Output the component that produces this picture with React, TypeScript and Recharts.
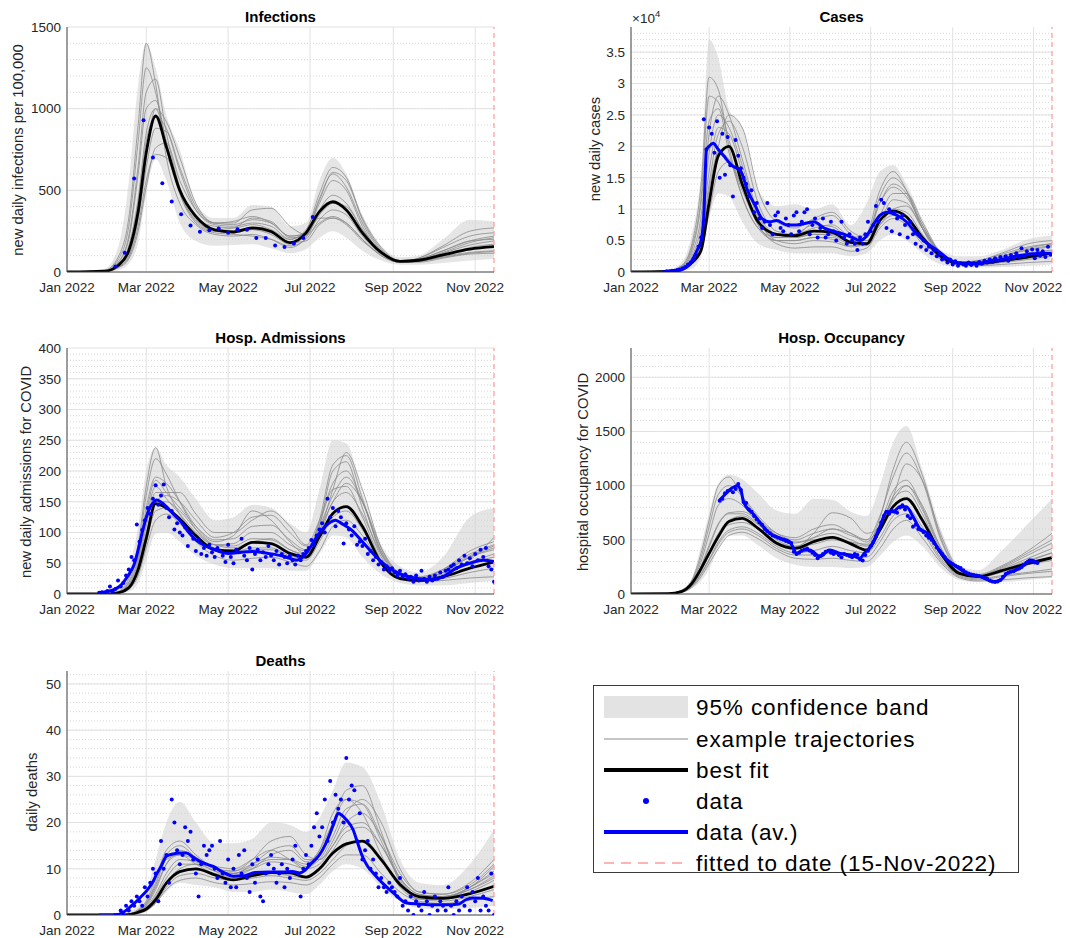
import {
  ComposedChart,
  Area,
  Line,
  Scatter,
  XAxis,
  YAxis,
  CartesianGrid,
  ReferenceLine,
} from "recharts";

const FONT = '"Liberation Sans", Arial, Helvetica, sans-serif';

// days since 1 Jan 2022
const gridDays = [0, 28, 38, 46, 53, 59, 66, 74, 84, 96, 110, 124, 138, 152, 166, 178, 188, 198, 208, 220, 234, 248, 262, 280, 300, 318];
const monthTickDays = [0, 59, 120, 181, 243, 304];
const monthTickLabels = ["Jan 2022", "Mar 2022", "May 2022", "Jul 2022", "Sep 2022", "Nov 2022"];
const fitDay = 318; // 15-Nov-2022

// ---- Infections
const infLo = [0, 0, 10, 50, 180, 480, 690, 560, 300, 190, 160, 165, 170, 145, 115, 140, 210, 250, 210, 130, 70, 45, 45, 55, 70, 80];
const infHi = [0, 20, 150, 550, 1150, 1400, 1250, 960, 750, 420, 330, 330, 410, 400, 280, 300, 560, 700, 600, 350, 160, 90, 100, 200, 320, 310];
const infBest = [0, 5, 40, 130, 370, 730, 955, 766, 500, 340, 258, 245, 270, 248, 180, 240, 370, 430, 380, 240, 120, 65, 72, 105, 140, 155];
const infTraj = [
  [0, 10, 90, 330, 900, 1400, 1150, 700, 420, 290, 230, 220, 230, 200, 150, 210, 450, 600, 520, 300, 130, 70, 80, 130, 190, 200],
  [0, 6, 60, 220, 650, 1100, 1180, 850, 520, 330, 250, 240, 260, 230, 170, 230, 420, 560, 500, 280, 120, 65, 85, 150, 220, 240],
  [0, 4, 35, 120, 350, 720, 1000, 920, 700, 420, 300, 300, 380, 390, 280, 230, 300, 340, 300, 200, 100, 60, 65, 95, 120, 130],
  [0, 3, 25, 80, 250, 520, 760, 790, 560, 380, 300, 310, 340, 300, 220, 240, 330, 330, 290, 190, 110, 70, 80, 130, 190, 220],
  [0, 5, 45, 160, 450, 850, 1000, 780, 480, 300, 240, 230, 220, 200, 160, 200, 320, 380, 350, 220, 110, 60, 60, 85, 110, 115],
  [0, 3, 28, 90, 280, 560, 720, 700, 500, 330, 280, 270, 290, 260, 200, 260, 440, 610, 560, 330, 150, 70, 70, 100, 150, 170],
  [0, 8, 75, 280, 800, 1250, 1100, 760, 480, 320, 260, 270, 330, 310, 210, 220, 380, 470, 420, 260, 120, 65, 75, 120, 180, 210],
  [0, 4, 40, 140, 420, 800, 950, 880, 620, 380, 290, 280, 300, 280, 200, 250, 480, 640, 580, 320, 140, 70, 75, 115, 165, 190],
  [0, 6, 55, 200, 600, 1000, 1050, 800, 500, 310, 250, 250, 260, 240, 180, 190, 290, 330, 300, 200, 100, 60, 65, 90, 115, 125],
  [0, 3, 30, 100, 320, 640, 880, 860, 640, 400, 300, 290, 320, 300, 220, 230, 350, 420, 400, 260, 120, 65, 85, 160, 250, 270],
];
const infDots = [33, 118, 573, 929, 701, 544, 432, 353, 285, 247, 255, 267, 240, 261, 259, 208, 208, 163, 153, 175, 208, 336];

// ---- Cases (x 10^4)
const casLo = [0, 0, 0.01, 0.05, 0.25, 0.85, 1.25, 1.2, 0.8, 0.45, 0.35, 0.3, 0.3, 0.3, 0.25, 0.3, 0.5, 0.6, 0.5, 0.3, 0.12, 0.08, 0.07, 0.08, 0.1, 0.12];
const casHi = [0, 0.03, 0.15, 0.6, 1.6, 3.7, 3.4, 2.6, 2.3, 1.3, 1.05, 1.08, 1.0, 1.08, 0.75, 1.1, 1.6, 1.7, 1.4, 0.85, 0.35, 0.25, 0.25, 0.35, 0.52, 0.58];
const casBest = [0, 0.01, 0.04, 0.15, 0.35, 1.1, 1.85, 2.0, 1.4, 0.8, 0.6, 0.58, 0.65, 0.63, 0.47, 0.45, 0.82, 0.97, 0.88, 0.55, 0.25, 0.14, 0.14, 0.18, 0.24, 0.3];
const casTraj = [
  [0, 0.02, 0.1, 0.45, 1.4, 3.1, 2.9, 2.0, 1.2, 0.7, 0.5, 0.5, 0.55, 0.55, 0.45, 0.6, 1.3, 1.6, 1.3, 0.7, 0.25, 0.15, 0.18, 0.28, 0.4, 0.45],
  [0, 0.01, 0.07, 0.3, 0.9, 2.2, 2.8, 2.5, 1.8, 0.95, 0.6, 0.55, 0.6, 0.58, 0.48, 0.55, 1.1, 1.4, 1.25, 0.7, 0.28, 0.14, 0.15, 0.22, 0.3, 0.35],
  [0, 0.01, 0.04, 0.15, 0.45, 1.2, 2.0, 2.5, 2.3, 1.3, 0.8, 0.7, 0.85, 0.95, 0.65, 0.55, 0.85, 1.0, 0.95, 0.6, 0.25, 0.15, 0.16, 0.25, 0.38, 0.45],
  [0, 0.01, 0.03, 0.12, 0.35, 0.95, 1.6, 1.75, 1.35, 0.75, 0.45, 0.38, 0.4, 0.4, 0.33, 0.38, 0.7, 0.85, 0.75, 0.45, 0.2, 0.12, 0.1, 0.12, 0.15, 0.17],
  [0, 0.02, 0.08, 0.35, 1.1, 2.4, 2.6, 1.9, 1.2, 0.7, 0.55, 0.6, 0.75, 0.72, 0.55, 0.6, 1.1, 1.35, 1.2, 0.75, 0.3, 0.16, 0.17, 0.25, 0.35, 0.4],
  [0, 0.01, 0.05, 0.2, 0.6, 1.6, 2.3, 2.2, 1.6, 0.85, 0.5, 0.45, 0.5, 0.48, 0.4, 0.45, 0.8, 1.15, 1.1, 0.7, 0.28, 0.12, 0.11, 0.15, 0.2, 0.25],
  [0, 0.015, 0.09, 0.4, 1.2, 2.8, 2.7, 2.1, 1.4, 0.8, 0.55, 0.55, 0.6, 0.6, 0.5, 0.55, 1.2, 1.5, 1.3, 0.75, 0.3, 0.16, 0.18, 0.3, 0.45, 0.5],
  [0, 0.01, 0.05, 0.2, 0.55, 1.4, 2.2, 2.4, 2.0, 1.1, 0.65, 0.6, 0.8, 0.9, 0.6, 0.5, 0.75, 1.0, 1.05, 0.7, 0.3, 0.14, 0.13, 0.18, 0.25, 0.3],
  [0, 0.01, 0.04, 0.18, 0.5, 1.3, 1.9, 1.8, 1.3, 0.75, 0.5, 0.5, 0.55, 0.52, 0.42, 0.42, 0.75, 0.9, 0.8, 0.5, 0.22, 0.12, 0.12, 0.16, 0.22, 0.26],
  [0, 0.02, 0.06, 0.25, 0.75, 1.9, 2.5, 2.3, 1.7, 0.9, 0.58, 0.6, 0.7, 0.75, 0.55, 0.5, 0.9, 1.25, 1.25, 0.8, 0.3, 0.15, 0.16, 0.24, 0.36, 0.42],
];
const casAvDays = [24, 36, 42, 46, 50, 53, 55, 57, 59, 62, 66, 70, 76, 83, 88, 94, 99, 105, 110, 118, 125, 133, 138, 146, 153, 161, 167, 173, 177, 183, 188, 193, 201, 208, 216, 224, 231, 239, 246, 254, 262, 270, 280, 290, 300, 310, 318];
const casAvVals = [0, 0.02, 0.08, 0.18, 0.35, 0.5, 0.9, 1.95, 2.0, 2.05, 1.95, 1.85, 1.7, 1.6, 1.3, 1.05, 0.85, 0.8, 0.82, 0.75, 0.75, 0.78, 0.8, 0.7, 0.65, 0.6, 0.55, 0.5, 0.55, 0.75, 0.9, 0.95, 0.9, 0.8, 0.6, 0.45, 0.35, 0.22, 0.15, 0.13, 0.13, 0.17, 0.2, 0.25, 0.28, 0.3, 0.3];
const casDots = [0, 0.01, 0.01, 0.02, 0.02, 0.03, 0.04, 0.06, 0.08, 0.12, 0.15, 0.2, 0.28, 0.4, 0.55, 2.43, 1.95, 2.3, 2.2, 1.9, 2.4, 1.5, 2.2, 1.55, 2.15, 1.7, 1.2, 2.1, 1.85, 1.65, 1.5, 1.4, 1.2, 1.3, 0.95, 1.1, 0.85, 0.7, 0.8, 1.1, 0.75, 0.6, 0.9, 0.95, 0.7, 0.65, 0.85, 0.75, 0.6, 0.9, 0.95, 0.65, 0.8, 0.95, 1.0, 0.6, 0.75, 0.85, 0.55, 0.7, 0.85, 0.55, 0.6, 0.8, 0.65, 0.5, 0.6, 0.8, 0.55, 0.45, 0.6, 0.5, 0.45, 0.35, 0.55, 0.45, 0.6, 0.8, 0.65, 0.75, 1.05, 0.8, 1.15, 1.1, 0.7, 1.0, 0.65, 0.95, 0.85, 0.6, 0.9, 0.75, 0.55, 0.8, 0.6, 0.45, 0.6, 0.4, 0.5, 0.35, 0.4, 0.3, 0.35, 0.25, 0.3, 0.2, 0.22, 0.15, 0.2, 0.12, 0.17, 0.1, 0.14, 0.12, 0.1, 0.15, 0.11, 0.14, 0.1, 0.16, 0.13, 0.18, 0.15, 0.2, 0.16, 0.22, 0.18, 0.24, 0.2, 0.25, 0.18, 0.27, 0.22, 0.3, 0.24, 0.38, 0.25, 0.33, 0.28, 0.36, 0.22, 0.35, 0.26, 0.33, 0.24, 0.4, 0.28];

// ---- Hosp. admissions
const admLo = [0, 0, 0, 4, 18, 55, 98, 100, 85, 62, 48, 42, 42, 42, 38, 38, 65, 95, 92, 60, 32, 18, 14, 14, 18, 22];
const admHi = [0, 1, 8, 40, 110, 200, 238, 210, 190, 155, 120, 125, 145, 140, 115, 100, 170, 250, 245, 165, 80, 45, 35, 60, 125, 140];
const admBest = [0, 0, 2, 10, 40, 90, 147, 140, 122, 95, 72, 70, 84, 82, 66, 60, 93, 131, 142, 110, 50, 25, 22, 28, 42, 52];
const admTraj = [
  [0, 0, 4, 25, 80, 175, 238, 175, 130, 95, 75, 68, 75, 75, 62, 58, 110, 200, 215, 140, 60, 30, 25, 40, 70, 85],
  [0, 0, 3, 18, 60, 140, 190, 180, 150, 110, 85, 95, 135, 120, 85, 65, 100, 170, 230, 170, 75, 32, 25, 35, 60, 75],
  [0, 0, 2, 12, 45, 110, 165, 165, 165, 130, 100, 100, 120, 135, 110, 80, 120, 180, 200, 150, 70, 35, 28, 40, 65, 80],
  [0, 0, 1, 8, 30, 75, 120, 130, 115, 85, 62, 55, 58, 60, 52, 45, 70, 110, 120, 95, 50, 26, 20, 22, 26, 28],
  [0, 0, 2, 14, 50, 120, 175, 155, 130, 100, 80, 82, 100, 100, 80, 70, 115, 170, 175, 125, 55, 28, 22, 30, 50, 60],
  [0, 0, 1, 10, 38, 95, 150, 150, 135, 105, 80, 75, 85, 90, 72, 62, 95, 150, 165, 130, 65, 33, 24, 35, 55, 92],
  [0, 0, 3, 20, 70, 160, 220, 195, 150, 105, 80, 78, 90, 88, 72, 65, 120, 210, 225, 155, 65, 30, 24, 35, 60, 72],
  [0, 0, 2, 11, 40, 100, 150, 160, 150, 120, 92, 100, 125, 128, 100, 78, 105, 150, 180, 150, 75, 34, 26, 38, 62, 78],
  [0, 0, 1, 9, 35, 85, 135, 140, 120, 90, 70, 65, 72, 72, 60, 55, 85, 125, 135, 105, 52, 27, 21, 25, 35, 42],
  [0, 0, 2, 15, 55, 130, 185, 165, 140, 110, 88, 90, 110, 112, 88, 72, 110, 160, 190, 150, 68, 30, 23, 32, 52, 65],
];
const admAvDays = [23, 30, 35, 40, 44, 47, 50, 53, 56, 60, 63, 67, 71, 74, 80, 84, 90, 96, 103, 110, 120, 130, 138, 150, 160, 166, 171, 178, 183, 188, 195, 200, 205, 212, 220, 230, 240, 250, 262, 270, 280, 290, 300, 310, 318];
const admAvVals = [2, 4, 7, 14, 25, 35, 48, 72, 100, 131, 145, 153, 148, 142, 128, 120, 102, 88, 78, 72, 66, 68, 69, 66, 62, 58, 55, 66, 82, 99, 115, 120, 114, 104, 85, 61, 42, 31, 25, 23, 28, 42, 50, 55, 53];
const admDots = [2, 3, 2, 5, 12, 4, 8, 22, 12, 18, 30, 40, 60, 55, 113, 85, 104, 120, 140, 130, 155, 177, 145, 160, 178, 140, 125, 135, 105, 115, 100, 95, 108, 78, 100, 90, 70, 88, 65, 75, 62, 80, 68, 60, 75, 70, 62, 52, 80, 60, 50, 72, 68, 90, 62, 55, 75, 40, 65, 72, 55, 68, 60, 78, 62, 55, 70, 48, 65, 60, 50, 62, 55, 48, 62, 55, 65, 70, 75, 88, 80, 95, 105, 115, 100, 155, 125, 140, 110, 135, 125, 82, 115, 105, 95, 110, 80, 85, 78, 90, 65, 70, 55, 60, 48, 52, 40, 45, 38, 42, 35, 30, 38, 28, 32, 25, 28, 20, 30, 22, 38, 25, 20, 28, 22, 30, 25, 35, 28, 38, 40, 45, 48, 42, 55, 48, 62, 50, 58, 45, 65, 55, 72, 60, 75, 45, 40, 20];

// ---- Hosp. occupancy
const occLo = [0, 0, 10, 55, 120, 230, 420, 540, 540, 450, 330, 270, 250, 250, 240, 250, 350, 480, 540, 440, 240, 130, 110, 110, 130, 150];
const occHi = [0, 5, 40, 140, 450, 750, 1020, 1100, 1060, 930, 770, 740, 880, 870, 760, 720, 1000, 1400, 1550, 1150, 600, 260, 220, 400, 650, 880];
const occBest = [0, 3, 22, 98, 237, 375, 530, 668, 698, 606, 468, 421, 483, 523, 462, 406, 590, 806, 880, 683, 375, 190, 160, 215, 283, 335];
const occTraj = [
  [0, 4, 35, 130, 380, 680, 1000, 1080, 900, 700, 540, 480, 500, 520, 480, 460, 700, 1150, 1400, 1100, 520, 220, 170, 250, 380, 500],
  [0, 3, 28, 110, 300, 550, 820, 880, 820, 650, 480, 430, 560, 750, 700, 560, 620, 900, 1200, 1050, 550, 230, 180, 260, 400, 560],
  [0, 2, 18, 75, 190, 320, 480, 590, 620, 560, 440, 380, 400, 440, 400, 380, 520, 720, 800, 620, 330, 170, 140, 170, 200, 230],
  [0, 2, 15, 60, 160, 280, 420, 540, 570, 510, 400, 330, 320, 330, 310, 300, 420, 600, 680, 520, 290, 150, 120, 130, 150, 160],
  [0, 3, 25, 100, 260, 450, 650, 750, 760, 680, 560, 520, 600, 640, 560, 480, 650, 950, 1050, 800, 420, 200, 165, 230, 330, 420],
  [0, 3, 20, 85, 220, 380, 560, 680, 720, 640, 500, 440, 460, 500, 470, 440, 620, 880, 950, 740, 380, 180, 150, 200, 270, 310],
  [0, 4, 30, 120, 340, 620, 920, 1000, 900, 720, 560, 500, 560, 600, 540, 500, 720, 1080, 1300, 1050, 500, 210, 170, 240, 360, 470],
  [0, 2, 20, 80, 210, 360, 540, 640, 660, 600, 480, 440, 520, 600, 560, 500, 620, 860, 1000, 820, 430, 200, 160, 220, 310, 380],
  [0, 2, 16, 70, 180, 310, 460, 570, 600, 540, 420, 360, 360, 380, 350, 340, 480, 680, 740, 580, 310, 160, 130, 160, 190, 210],
  [0, 3, 24, 95, 250, 430, 640, 740, 740, 650, 520, 470, 520, 560, 500, 450, 600, 900, 1000, 780, 400, 190, 155, 210, 300, 380],
];
const occAvDays = [67, 72, 76, 80, 83, 85, 93, 98, 105, 113, 120, 122, 125, 130, 135, 143, 150, 158, 166, 173, 176, 181, 188, 193, 198, 203, 208, 213, 218, 224, 231, 239, 246, 254, 264, 274, 279, 284, 294, 302, 308];
const occAvVals = [868, 930, 975, 1000, 960, 850, 730, 650, 560, 514, 483, 440, 375, 406, 406, 345, 406, 375, 360, 330, 375, 437, 620, 760, 760, 806, 806, 714, 606, 560, 437, 314, 252, 190, 160, 114, 129, 190, 237, 314, 283];
const occDots = [860, 880, 930, 950, 960, 940, 970, 1015, 960, 850, 840, 780, 760, 720, 690, 660, 640, 600, 580, 560, 540, 530, 520, 510, 500, 490, 480, 470, 390, 370, 380, 400, 410, 420, 400, 380, 360, 330, 350, 370, 390, 400, 380, 370, 380, 360, 340, 370, 360, 350, 340, 370, 360, 320, 310, 360, 400, 440, 480, 530, 590, 660, 720, 760, 740, 770, 760, 750, 800, 820, 780, 720, 700, 620, 640, 600, 590, 570, 540, 520, 500, 470, 430, 400, 370, 340, 310, 290, 275, 260, 250, 240, 220, 200, 190, 180, 175, 170, 165, 160, 150, 140, 125, 115, 110, 115, 130, 160, 185, 195, 205, 210, 225, 235, 250, 270, 290, 310, 300, 290, 285];

// ---- Deaths
const dthLo = [0, 0, 0, 0, 0.2, 0.8, 2.5, 5, 7, 6.5, 6, 5, 5, 5.5, 5, 4.5, 6.5, 9.5, 11, 10, 6, 3, 1.5, 1.2, 1.5, 2];
const dthHi = [0, 0, 0.2, 0.8, 2, 5, 12, 20, 24.5, 20, 15.5, 15.5, 16.5, 20, 19.5, 18, 21, 27, 33, 32, 24, 12, 7, 6.5, 11, 18.5];
const dthBest = [0, 0, 0, 0.1, 0.6, 1.3, 3.3, 6.9, 9.4, 10, 8.7, 7.6, 8.5, 9.2, 9.1, 8.2, 10, 13.4, 15.4, 16, 12, 6.6, 4, 3.6, 4.6, 6.2];
const dthTraj = [
  [0, 0, 0, 0.2, 1.2, 3, 8, 14, 16, 13, 10, 9, 10, 11.5, 11, 10, 13, 20, 27, 28, 18, 7, 3.5, 3.5, 6, 9],
  [0, 0, 0, 0.1, 0.8, 2, 5.5, 11, 14, 12.5, 10, 9.5, 12, 16, 17, 13, 12, 16, 22, 25, 20, 10, 5, 4.5, 7, 12],
  [0, 0, 0, 0.1, 0.5, 1.2, 3, 7, 10, 11, 10.5, 10, 12, 14, 12, 10, 11, 15, 19, 20, 15, 8, 4.5, 4, 5.5, 8],
  [0, 0, 0, 0.05, 0.3, 0.9, 2.5, 5.5, 7.5, 8, 7, 6.5, 6.8, 7.2, 7, 6.5, 8, 11, 13, 13, 9, 5, 3, 2.5, 3.2, 4],
  [0, 0, 0, 0.15, 1, 2.5, 6.5, 12, 13, 11, 9, 8.5, 10, 13, 14, 11.5, 14, 22, 25, 22, 13, 6, 3.5, 3.5, 5, 7.5],
  [0, 0, 0, 0.1, 0.7, 1.8, 4.5, 9, 12, 11.5, 9.5, 8, 8.5, 9, 8.5, 8, 10, 14, 18, 19, 15, 8, 4.5, 4, 6, 10.5],
  [0, 0, 0, 0.15, 1, 2.6, 7, 13, 15, 12.5, 10, 9, 10.5, 12, 12, 11, 14, 20, 25, 24, 16, 7.5, 4, 4, 6, 9.5],
  [0, 0, 0, 0.08, 0.6, 1.5, 4, 8, 11, 11, 9.5, 9, 11, 14, 15, 12, 12, 15, 20, 22, 17, 9, 5, 4.5, 6.5, 11],
  [0, 0, 0, 0.05, 0.4, 1, 2.8, 6, 8.5, 9, 8, 7.5, 8, 8.5, 8, 7.5, 9, 12, 15, 16, 12, 6.5, 3.5, 3, 4, 5.5],
  [0, 0, 0, 0.12, 0.9, 2.2, 6, 11, 13, 12, 10, 9.5, 11, 12.5, 12, 10.5, 12, 17, 23, 24, 17, 8, 4, 3.8, 5.5, 8.5],
];
const dthAvDays = [24, 36, 40, 44, 48, 52, 56, 60, 64, 67, 70, 74, 79, 84, 89, 94, 99, 104, 109, 116, 124, 132, 140, 150, 160, 168, 173, 177, 181, 185, 188, 192, 196, 199, 202, 205, 208, 213, 216, 220, 224, 228, 235, 243, 253, 262, 272, 282, 292, 297, 302, 310, 317];
const dthAvVals = [0, 0, 0.3, 1, 2, 3, 4.2, 5.5, 7.2, 9, 10.5, 12.7, 13.2, 13.4, 13.4, 12.5, 11.6, 11, 10.5, 9.3, 8.4, 8.5, 9.2, 9.3, 9.3, 9.4, 9.1, 9.6, 10.9, 12, 13, 15, 17.7, 20, 22, 21.5, 20.6, 18.5, 16, 12.7, 10.5, 9.1, 6.9, 4.8, 2.6, 2.4, 2.2, 2.2, 2.4, 3.3, 3.7, 3.6, 3.1];
const dthDots = [0, 0, 1, 0, 2, 1, 3, 2, 4, 3, 2, 6, 4, 7, 10, 9, 3, 16, 10, 13, 7, 25, 20, 14, 11, 13, 19, 16, 18, 12, 9, 4, 11, 15, 13, 14, 15, 10, 8, 16, 9, 7, 12, 6, 10, 6, 13, 9, 14, 8, 5, 11, 7, 12, 4, 3, 9, 11, 13, 10, 7, 9, 11, 6, 10, 8, 12, 15, 9, 4, 10, 13, 11, 15, 19, 22, 17, 19, 25, 16, 29, 20, 26, 23, 25, 20, 34, 25, 28, 27, 16, 22, 12, 14, 16, 10, 12, 9, 6, 8, 6, 5, 7, 6, 5, 4, 8, 2, 3, 1, 4, 0, 3, 2, 1, 5, 3, 0, 2, 4, 1, 3, 2, 1, 6, 2, 0, 3, 1, 4, 2, 6, 1, 5, 3, 8, 1, 4, 2, 1, 9, 0];

const AXW = 67;
const TOPM = 27;
const RIGHTM = 26;
const BOTM = 30;

type PanelProps = {
  x: number;
  y: number;
  w: number;
  h: number;
  yMax: number;
  yTicks: number[];
  minorStep: number;
  lo: number[];
  hi: number[];
  best: number[];
  trajs: number[][];
  avDays?: number[];
  avVals?: number[];
  dotStart: number;
  dotStep: number;
  dots: number[];
};

function Panel(p: PanelProps) {
  const table = gridDays.map((d, i) => {
    const row: any = { d, band: [p.lo[i], p.hi[i]], best: p.best[i] };
    p.trajs.forEach((t, k) => (row["t" + k] = t[i]));
    return row;
  });
  const avData = p.avDays ? p.avDays.map((d, i) => ({ d, v: p.avVals![i] })) : [];
  const dotData = p.dots.map((v, i) => ({ d: p.dotStart + p.dotStep * i, v }));
  const minor: number[] = [];
  for (let k = 1; k * p.minorStep < p.yMax; k++) minor.push(Math.round(k * p.minorStep * 1000) / 1000);

  const tick = { fontSize: 13.5, fill: "#262626", fontFamily: FONT };

  return (
    <div style={{ position: "absolute", left: p.x - AXW, top: p.y - TOPM }}>
      <ComposedChart
        width={AXW + p.w + RIGHTM}
        height={TOPM + p.h + BOTM}
        data={table}
        margin={{ top: TOPM, right: RIGHTM, bottom: 5, left: 0 }}
      >
        <CartesianGrid horizontalValues={minor} vertical={false} stroke="#d6d6d6" strokeDasharray="1 2" />
        <CartesianGrid horizontalValues={p.yTicks} verticalValues={monthTickDays} stroke="#e2e2e2" />
        <XAxis
          type="number"
          dataKey="d"
          domain={[0, fitDay]}
          ticks={monthTickDays}
          interval={0}
          allowDataOverflow
          height={25}
          tickLine={false}
          tickSize={4}
          tickMargin={6}
          tick={tick}
          axisLine={{ stroke: "#4a4a4a" }}
          tickFormatter={(v: number) => monthTickLabels[monthTickDays.indexOf(v)]}
        />
        <YAxis
          type="number"
          domain={[0, p.yMax]}
          ticks={p.yTicks}
          interval={0}
          allowDataOverflow
          width={AXW}
          tickLine={false}
          tickSize={4}
          tickMargin={2}
          tick={tick}
          axisLine={{ stroke: "#4a4a4a" }}
        />
        <Area
          dataKey="band"
          type="monotone"
          fill="#cfcfcf"
          fillOpacity={0.55}
          stroke="none"
          isAnimationActive={false}
        />
        {p.trajs.map((_, k) => (
          <Line
            key={k}
            dataKey={"t" + k}
            type="monotone"
            stroke="#8a8a8a"
            strokeWidth={0.8}
            dot={false}
            isAnimationActive={false}
          />
        ))}
        <Line dataKey="best" type="monotone" stroke="#000" strokeWidth={2.8} dot={false} isAnimationActive={false} />
        <Scatter
          data={dotData}
          dataKey="v"
          isAnimationActive={false}
          shape={(s: any) => <circle cx={s.cx} cy={s.cy} r={2} fill="#0000ff" />}
        />
        {avData.length > 0 && (
          <Line
            data={avData}
            dataKey="v"
            type="monotone"
            stroke="#0000ff"
            strokeWidth={3}
            dot={false}
            isAnimationActive={false}
          />
        )}
        <ReferenceLine x={fitDay} stroke="#ff9a9a" strokeDasharray="5 4" strokeWidth={1.2} />
      </ComposedChart>
    </div>
  );
}

function Title({ x, y, text }: { x: number; y: number; text: string }) {
  return (
    <div
      style={{
        position: "absolute",
        left: x,
        top: y,
        transform: "translate(-50%, -50%)",
        fontFamily: FONT,
        fontWeight: "bold",
        fontSize: 15,
        color: "#000",
        whiteSpace: "nowrap",
        lineHeight: 1,
      }}
    >
      {text}
    </div>
  );
}

function YLabel({ x, y, text }: { x: number; y: number; text: string }) {
  return (
    <div
      style={{
        position: "absolute",
        left: x,
        top: y,
        transform: "translate(-50%, -50%) rotate(-90deg)",
        fontFamily: FONT,
        fontSize: 14.8,
        color: "#262626",
        whiteSpace: "nowrap",
        lineHeight: 1,
      }}
    >
      {text}
    </div>
  );
}

function LegendBox() {
  const rows = [21, 53, 84, 115, 146, 177];
  const labels = [
    "95% confidence band",
    "example trajectories",
    "best fit",
    "data",
    "data (av.)",
    "fitted to date (15-Nov-2022)",
  ];
  return (
    <div
      style={{
        position: "absolute",
        left: 593,
        top: 685,
        width: 426,
        height: 188,
        border: "1px solid #3a3a3a",
        background: "#fff",
        boxSizing: "border-box",
      }}
    >
      <svg width={424} height={186} style={{ position: "absolute", left: 0, top: 0, overflow: "visible" }}>
        <rect x={10} y={rows[0] - 11} width={84} height={22} fill="#e3e3e3" />
        <line x1={10} x2={94} y1={rows[1]} y2={rows[1]} stroke="#8a8a8a" strokeWidth={1} />
        <line x1={10} x2={94} y1={rows[2]} y2={rows[2]} stroke="#000" strokeWidth={4} />
        <circle cx={52} cy={rows[3]} r={3} fill="#0000ff" />
        <line x1={10} x2={94} y1={rows[4]} y2={rows[4]} stroke="#0000ff" strokeWidth={4} />
        <line x1={10} x2={94} y1={rows[5]} y2={rows[5]} stroke="#ff9a9a" strokeWidth={1.5} strokeDasharray="10 7" />
        {labels.map((t, i) => (
          <text
            key={t}
            x={102}
            y={rows[i]}
            dominantBaseline="central"
            fontFamily={FONT}
            fontSize={22.5}
            letterSpacing={0.9}
            fill="#000"
          >
            {t}
          </text>
        ))}
      </svg>
    </div>
  );
}

export default function App() {
  return (
    <div
      style={{
        position: "absolute",
        left: 0,
        top: 0,
        width: 1070,
        height: 938,
        background: "#fff",
        overflow: "hidden",
      }}
    >
      <Panel
        x={67} y={27} w={427} h={245}
        yMax={1500} yTicks={[0, 500, 1000, 1500]} minorStep={100}
        lo={infLo} hi={infHi} best={infBest} trajs={infTraj}
        dotStart={36} dotStep={7} dots={infDots}
      />
      <Panel
        x={631} y={27} w={421} h={245}
        yMax={3.9} yTicks={[0, 0.5, 1, 1.5, 2, 2.5, 3, 3.5]} minorStep={0.1}
        lo={casLo} hi={casHi} best={casBest} trajs={casTraj}
        avDays={casAvDays} avVals={casAvVals}
        dotStart={25} dotStep={2} dots={casDots}
      />
      <Panel
        x={67} y={348} w={427} h={246}
        yMax={400} yTicks={[0, 50, 100, 150, 200, 250, 300, 350, 400]} minorStep={10}
        lo={admLo} hi={admHi} best={admBest} trajs={admTraj}
        avDays={admAvDays} avVals={admAvVals}
        dotStart={24} dotStep={2} dots={admDots}
      />
      <Panel
        x={631} y={348} w={421} h={246}
        yMax={2270} yTicks={[0, 500, 1000, 1500, 2000]} minorStep={100}
        lo={occLo} hi={occHi} best={occBest} trajs={occTraj}
        avDays={occAvDays} avVals={occAvVals}
        dotStart={67} dotStep={2} dots={occDots}
      />
      <Panel
        x={67} y={671} w={427} h={244}
        yMax={52.8} yTicks={[0, 10, 20, 30, 40, 50]} minorStep={2}
        lo={dthLo} hi={dthHi} best={dthBest} trajs={dthTraj}
        avDays={dthAvDays} avVals={dthAvVals}
        dotStart={36} dotStep={2} dots={dthDots}
      />

      <Title x={280.5} y={16} text="Infections" />
      <Title x={841.5} y={16} text="Cases" />
      <Title x={280.5} y={337} text="Hosp. Admissions" />
      <Title x={841.5} y={337} text="Hosp. Occupancy" />
      <Title x={280.5} y={660} text="Deaths" />

      <YLabel x={18} y={150} text="new daily infections per 100,000" />
      <YLabel x={595} y={149} text="new daily cases" />
      <YLabel x={26} y={472} text="new daily admissions for COVID" />
      <YLabel x={583} y={472} text="hospital occupancy for COVID" />
      <YLabel x={32} y={792} text="daily deaths" />

      <div
        style={{
          position: "absolute",
          left: 632,
          top: 9,
          fontFamily: FONT,
          fontSize: 13.5,
          color: "#262626",
          lineHeight: 1,
        }}
      >
        ×10<sup style={{ fontSize: 9.5 }}>4</sup>
      </div>

      <LegendBox />
    </div>
  );
}
